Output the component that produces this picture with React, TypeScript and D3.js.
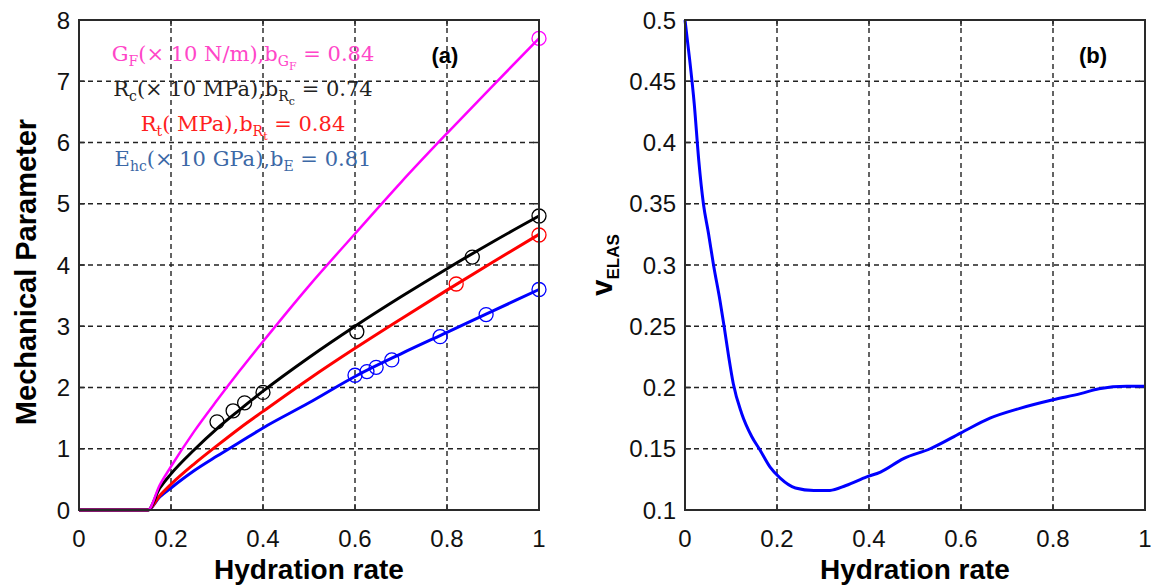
import React from "react";
import * as d3 from "d3";

// ---------- Data ----------
const hydX = [0, 0.15, 0.175, 0.2, 0.25, 0.3, 0.35, 0.4, 0.5, 0.6, 0.7, 0.8, 0.9, 1.0];
const gfVals = [0, 0, 0.40, 0.71, 1.28, 1.79, 2.28, 2.75, 3.66, 4.51, 5.35, 6.15, 6.93, 7.7];
const rcVals = [0, 0, 0.35, 0.59, 0.98, 1.33, 1.64, 1.94, 2.49, 3.0, 3.48, 3.94, 4.38, 4.8];
const rtVals = [0, 0, 0.23, 0.42, 0.75, 1.05, 1.34, 1.61, 2.14, 2.64, 3.12, 3.59, 4.05, 4.5];
const eVals = [0, 0, 0.21, 0.36, 0.64, 0.88, 1.11, 1.34, 1.75, 2.18, 2.55, 2.9, 3.25, 3.6];

const gfObsX = [1.0];
const gfObsY = [7.7];
const rcObsX = [0.3, 0.335, 0.36, 0.4, 0.604, 0.855, 1.0];
const rcObsY = [1.44, 1.62, 1.75, 1.92, 2.91, 4.13, 4.8];
const rtObsX = [0.82, 1.0];
const rtObsY = [3.69, 4.49];
const eObsX = [0.6, 0.626, 0.646, 0.68, 0.785, 0.885, 1.0];
const eObsY = [2.2, 2.26, 2.33, 2.45, 2.83, 3.19, 3.6];

const nuX = [0, 0.01, 0.02, 0.03, 0.04, 0.051, 0.062, 0.076, 0.085, 0.095, 0.105,
  0.123, 0.145, 0.163, 0.185, 0.207, 0.24, 0.28, 0.315, 0.35, 0.395, 0.425, 0.475, 0.533, 0.6, 0.663,
  0.728, 0.8, 0.86, 0.9, 0.96, 1.0];
const nuY = [0.5, 0.468, 0.432, 0.385, 0.35, 0.326, 0.3, 0.271, 0.25, 0.225, 0.203,
  0.179, 0.16, 0.149, 0.135, 0.126, 0.118, 0.116, 0.116, 0.12, 0.127, 0.131, 0.142, 0.15, 0.163, 0.175,
  0.183, 0.19, 0.195, 0.199, 0.201, 0.201];

const xTicks = [0, 0.2, 0.4, 0.6, 0.8, 1];
const xTickLabels = ["0", "0.2", "0.4", "0.6", "0.8", "1"];
const yTicksA = [0, 1, 2, 3, 4, 5, 6, 7, 8];
const yTicksB = [0.1, 0.15, 0.2, 0.25, 0.3, 0.35, 0.4, 0.45, 0.5];

type Seg = { t: string; lvl: number };
const legendLines: { color: string; segs: Seg[] }[] = [
  { color: "#ff46c8", segs: [{ t: "G", lvl: 0 }, { t: "F", lvl: 1 }, { t: "(× 10 N/m),b", lvl: 0 }, { t: "G", lvl: 1 }, { t: "F", lvl: 2 }, { t: " = 0.84", lvl: 0 }] },
  { color: "#222222", segs: [{ t: "R", lvl: 0 }, { t: "c", lvl: 1 }, { t: "(× 10 MPa),b", lvl: 0 }, { t: "R", lvl: 1 }, { t: "c", lvl: 2 }, { t: " = 0.74", lvl: 0 }] },
  { color: "#ff2020", segs: [{ t: "R", lvl: 0 }, { t: "t", lvl: 1 }, { t: "( MPa),b", lvl: 0 }, { t: "R", lvl: 1 }, { t: "t", lvl: 2 }, { t: " = 0.84", lvl: 0 }] },
  { color: "#3c68a6", segs: [{ t: "E", lvl: 0 }, { t: "hc", lvl: 1 }, { t: "(× 10 GPa),b", lvl: 0 }, { t: "E", lvl: 1 }, { t: " = 0.81", lvl: 0 }] },
];

// ---------- Layout ----------
const W = 1151, H = 586;
const TOP = 20, BOTTOM = 510;
const xA = d3.scaleLinear().domain([0, 1]).range([79, 539]);
const yA = d3.scaleLinear().domain([0, 8]).range([BOTTOM, TOP]);
const xB = d3.scaleLinear().domain([0, 1]).range([685, 1145]);
const yB = d3.scaleLinear().domain([0.1, 0.5]).range([BOTTOM, TOP]);

const AX = "#2a2a2a";
const FONT = "'Liberation Sans', Arial, sans-serif";

function Frame({ x, y, yTicks, yFmt }: { x: any; y: any; yTicks: number[]; yFmt: (v: number) => string }) {
  const [x0, x1] = x.range();
  const [y0, y1] = y.range();
  return (
    <g>
      {xTicks.slice(1, -1).map((t, i) => (
        <line key={"gx" + i} x1={x(t)} x2={x(t)} y1={y0} y2={y1} stroke="#222" strokeWidth={1.4} strokeDasharray="5,4" />
      ))}
      {yTicks.slice(1, -1).map((t, i) => (
        <line key={"gy" + i} x1={x0} x2={x1} y1={y(t)} y2={y(t)} stroke="#222" strokeWidth={1.4} strokeDasharray="5,4" />
      ))}
      {xTicks.map((t, i) => (
        <g key={"tx" + i}>
          <line x1={x(t)} x2={x(t)} y1={y0} y2={y0 - 6} stroke={AX} strokeWidth={1.5} />
          <line x1={x(t)} x2={x(t)} y1={y1} y2={y1 + 6} stroke={AX} strokeWidth={1.5} />
          <text x={x(t)} y={547} textAnchor="middle" fontFamily={FONT} fontSize={24} fill="#111">{xTickLabels[i]}</text>
        </g>
      ))}
      {yTicks.map((t, i) => (
        <g key={"ty" + i}>
          <line x1={x0} x2={x0 + 6} y1={y(t)} y2={y(t)} stroke={AX} strokeWidth={1.5} />
          <line x1={x1} x2={x1 - 6} y1={y(t)} y2={y(t)} stroke={AX} strokeWidth={1.5} />
          <text x={x0 - 9} y={y(t)} dy="0.36em" textAnchor="end" fontFamily={FONT} fontSize={24} fill="#111">{yFmt(t)}</text>
        </g>
      ))}
      <text x={(x0 + x1) / 2} y={579} textAnchor="middle" fontFamily={FONT} fontWeight="bold" fontSize={28} fill="#000">Hydration rate</text>
    </g>
  );
}

function Box({ x, y }: { x: any; y: any }) {
  const [x0, x1] = x.range();
  const [y0, y1] = y.range();
  return <rect x={x0} y={y1} width={x1 - x0} height={y0 - y1} fill="none" stroke={AX} strokeWidth={2} />;
}

function LegendLine({ color, segs, cx, by }: { color: string; segs: Seg[]; cx: number; by: number }) {
  const sizes = [21, 14, 11];
  const offs = [0, 5, 9];
  let prev = 0;
  return (
    <text x={cx} y={by} textAnchor="middle" fontFamily="'DejaVu Serif', 'Liberation Serif', serif" fill={color} fontSize={21}>
      {segs.map((s, i) => {
        const dy = offs[s.lvl] - offs[prev];
        prev = s.lvl;
        return (
          <tspan key={i} dy={dy} fontSize={sizes[s.lvl]}>{s.t}</tspan>
        );
      })}
    </text>
  );
}

export default function App() {
  const lineA = (vals: number[]) =>
    d3.line<number>().x((_, i) => xA(hydX[i])).y((v) => yA(v)).curve(d3.curveMonotoneX)(vals) || "";
  const lineB = d3.line<number>().x((_, i) => xB(nuX[i])).y((v) => yB(v)).curve(d3.curveMonotoneX)(nuY) || "";

  const series = [
    { vals: eVals, color: "#0000ff", ox: eObsX, oy: eObsY, w: 3 },
    { vals: rtVals, color: "#ff0000", ox: rtObsX, oy: rtObsY, w: 3 },
    { vals: rcVals, color: "#000000", ox: rcObsX, oy: rcObsY, w: 3 },
    { vals: gfVals, color: "#ff00ff", ox: gfObsX, oy: gfObsY, w: 2.5 },
  ];

  return (
    <svg width={W} height={H} style={{ position: "absolute", left: 0, top: 0, background: "#fff" }}>
      <rect width={W} height={H} fill="#fff" />
      {/* Panel (a) */}
      <Frame x={xA} y={yA} yTicks={yTicksA} yFmt={(v) => String(v)} />
      {series.map((s, i) => (
        <path key={"l" + i} d={lineA(s.vals)} fill="none" stroke={s.color} strokeWidth={s.w} />
      ))}
      {series.map((s, i) => (
        <g key={"m" + i}>
          {s.ox.map((xv, j) => (
            <circle key={j} cx={xA(xv)} cy={yA(s.oy[j])} r={7} fill="none" stroke={s.color} strokeWidth={1.3} />
          ))}
        </g>
      ))}
      <Box x={xA} y={yA} />
      {legendLines.map((l, i) => (
        <LegendLine key={i} color={l.color} segs={l.segs} cx={243} by={61 + i * 35} />
      ))}
      <text x={445} y={63} textAnchor="middle" fontFamily={FONT} fontWeight="bold" fontSize={22}>(a)</text>
      <text transform="translate(36,272) rotate(-90)" textAnchor="middle" fontFamily={FONT} fontWeight="bold" fontSize={29}>Mechanical Parameter</text>

      {/* Panel (b) */}
      <Frame x={xB} y={yB} yTicks={yTicksB} yFmt={(v) => d3.format("")(+v.toFixed(2))} />
      <path d={lineB} fill="none" stroke="#0000ff" strokeWidth={3} />
      <Box x={xB} y={yB} />
      <text x={1093} y={63} textAnchor="middle" fontFamily={FONT} fontWeight="bold" fontSize={22}>(b)</text>
      <text transform="translate(612,265) rotate(-90)" textAnchor="middle" fontFamily={FONT} fontWeight="bold" fontSize={29}>
        <tspan>v</tspan>
        <tspan dy={7} fontSize={17}>ELAS</tspan>
      </text>
    </svg>
  );
}
